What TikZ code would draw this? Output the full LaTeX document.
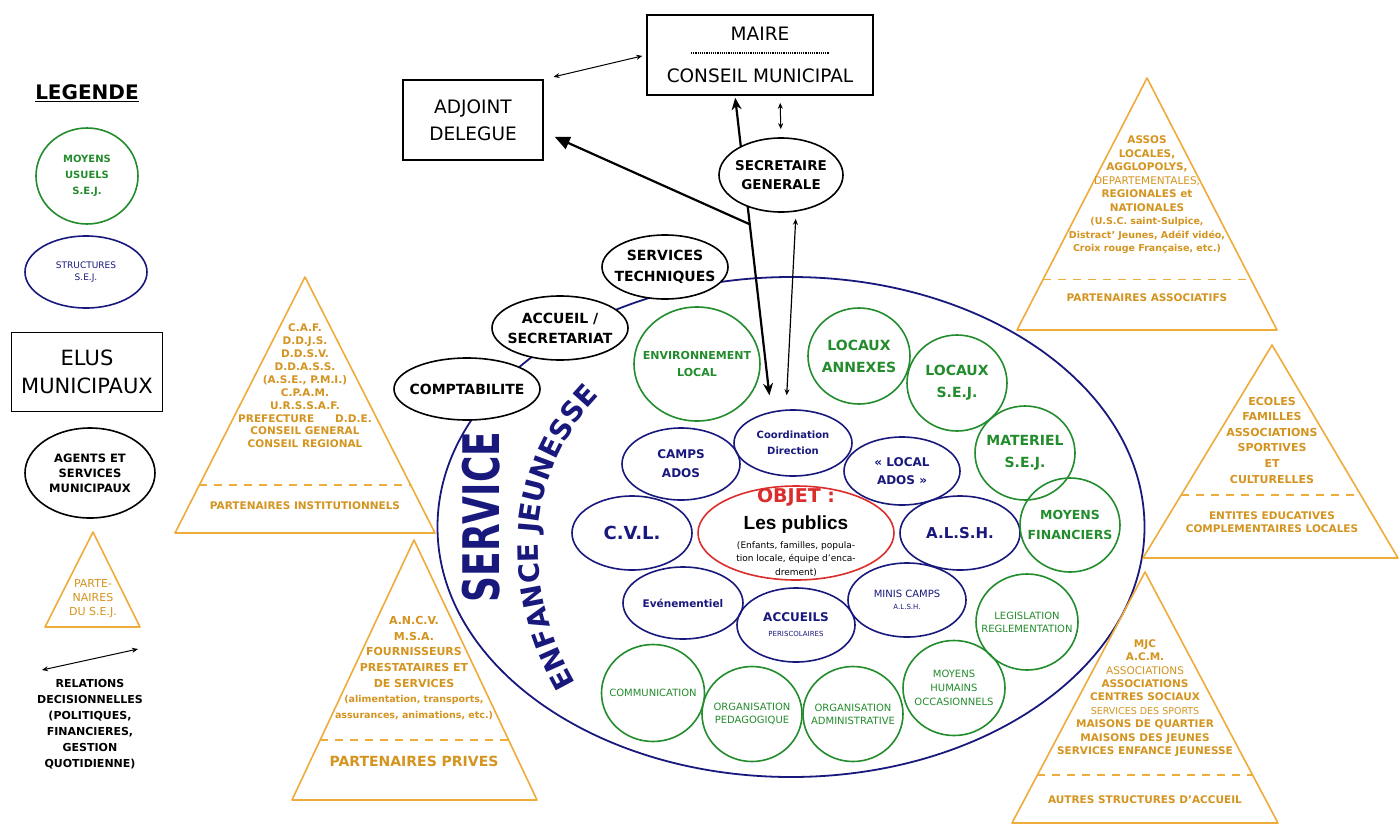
\documentclass[tikz,border=0pt]{standalone}
\usepackage{fontspec}
\setmainfont{DejaVu Sans}
\newfontfamily\publicfont{Liberation Sans}
\usetikzlibrary{shapes.geometric,arrows.meta,decorations.text,calc}

\definecolor{sejblue}{RGB}{25,25,125}
\definecolor{sejgreen}{RGB}{35,140,45}
\definecolor{sejred}{RGB}{220,45,45}
\definecolor{partline}{RGB}{238,172,58}
\definecolor{parttext}{RGB}{212,148,32}

\newcommand{\txtsize}[2]{\fontsize{#1}{#2}\selectfont}

\tikzset{
  box/.style={draw, line width=1.6pt, inner sep=0pt, align=center},
  agent/.style n args={4}{draw, ellipse, line width=1.6pt, fill=white, inner sep=0pt,
    minimum width=#1, minimum height=#2, label={[align=center, font=#3]center:#4}},
  moyen/.style n args={4}{draw=sejgreen, ellipse, line width=1.6pt, inner sep=0pt,
    minimum width=#1, minimum height=#2, label={[align=center, text=sejgreen, font=#3]center:#4}},
  struct/.style n args={4}{draw=sejblue, ellipse, line width=1.6pt, inner sep=0pt,
    minimum width=#1, minimum height=#2, label={[align=center, text=sejblue, font=#3]center:#4}},
  tri/.style={draw=partline, line width=1.6pt, line join=round},
  sepline/.style={draw=partline, line width=1.6pt, dash pattern=on 8pt off 7pt},
  parttxt/.style={text=parttext, align=center, font=\bfseries\txtsize{10.5}{12.9}},
  rel/.style={{Stealth[length=6pt,width=5pt]}-{Stealth[length=6pt,width=5pt]}, line width=1pt},
  bigline/.style={{Stealth[length=12pt,width=10pt]}-{Stealth[length=12pt,width=10pt]}, line width=2.2pt},
  bigarrow/.style={-{Triangle[length=15pt,width=13pt]}, line width=2.2pt},
}

\begin{document}
\begin{tikzpicture}[x=1pt,y=-1pt]
\useasboundingbox (0,0) rectangle (1400,825);
\fill[white] (0,0) rectangle (1400,825);

% draw legend
\node[font=\bfseries\txtsize{20}{24}] (leg) at (87,93) {\underline{LEGENDE}};
\node[moyen={102pt}{96pt}{\bfseries\txtsize{10}{16}}{MOYENS\\USUELS\\S.E.J.}] (lmoy) at (87,176) {};
\node[struct={122pt}{72pt}{\txtsize{9}{12}}{STRUCTURES\\S.E.J.}] (lstr) at (86,272) {};
\node[box, minimum width=151pt, minimum height=79pt, font=\txtsize{21}{28}] (lelu) at (87,372) {ELUS\\MUNICIPAUX};
\node[agent={130pt}{90pt}{\bfseries\txtsize{11.5}{15}}{AGENTS ET\\SERVICES\\MUNICIPAUX}] (lagt) at (90,473) {};
\draw[tri] (93,532) -- (45,627) -- (140,627) -- cycle;
\node[parttxt, font=\txtsize{11}{14}] (lpart) at (93,599) {PARTE-\\NAIRES\\DU S.E.J.};
\coordinate (rela) at (42,670);
\coordinate (relb) at (138,649);
\draw[rel] (rela) -- (relb);
\node[align=center, font=\bfseries\txtsize{11}{16}] (reltxt) at (90,724) {RELATIONS\\DECISIONNELLES\\(POLITIQUES,\\FINANCIERES,\\GESTION\\QUOTIDIENNE)};

% draw elus
\node[box, minimum width=226pt, minimum height=80pt, font=\txtsize{18.5}{42}] (maire) at (760,55) {MAIRE\\CONSEIL MUNICIPAL};
\draw[densely dotted, line width=1.2pt] ([xshift=-69pt,yshift=2pt]maire.center) -- ([xshift=69pt,yshift=2pt]maire.center);
\node[box, minimum width=140pt, minimum height=80pt, font=\txtsize{18.5}{27}] (adj) at (473,120) {ADJOINT\\DELEGUE};

% draw service
\node[draw=sejblue, ellipse, line width=1.8pt, inner sep=0pt, minimum width=707pt, minimum height=500pt] (sej) at (791,527) {};
\node[rotate=90, yscale=1.4, text=sejblue, font=\bfseries\txtsize{36}{36}] (service) at (481,517) {SERVICE};
\path[decorate, decoration={text along path, text align=center, text color=sejblue,
  text={|\bfseries\txtsize{28}{28}|ENFANCE JEUNESSE}}]
  (586,700) .. controls (520,602) and (515,468) .. (614,382);

% structures
\node[struct={118pt}{66pt}{\bfseries\txtsize{10}{16}}{Coordination\\Direction}] (coord) at (793,443) {};
\node[struct={118pt}{72pt}{\bfseries\txtsize{12}{19}}{CAMPS\\ADOS}] (camps) at (681,464) {};
\node[struct={116pt}{68pt}{\bfseries\txtsize{12}{18}}{« LOCAL\\ADOS »}] (localados) at (902,471) {};
\node[struct={120pt}{74pt}{\bfseries\txtsize{18}{18}}{C.V.L.}] (cvl) at (632,533) {};
\node[struct={120pt}{74pt}{\bfseries\txtsize{15}{15}}{A.L.S.H.}] (alsh) at (960,533) {};
\node[struct={120pt}{72pt}{\bfseries\txtsize{10.5}{12}}{Evénementiel}] (event) at (683,603) {};
\node[struct={118pt}{74pt}{\bfseries\txtsize{12}{15}}{ACCUEILS\\{\mdseries\txtsize{7}{9}PERISCOLAIRES}}] (accueils) at (796,625) {};
\node[struct={118pt}{74pt}{\txtsize{10}{12}}{MINIS CAMPS\\{\txtsize{7}{9}A.L.S.H.}}] (minis) at (907,600) {};

% objet
\node[draw=sejred, ellipse, line width=1.6pt, inner sep=0pt, minimum width=196pt, minimum height=94pt] (obj) at (796,533) {};
\node[text=sejred, font=\bfseries\txtsize{19}{19}] (objet) at ([yshift=36pt]obj.center) {OBJET :};
\node[font=\publicfont\bfseries\txtsize{19}{19}] (publics) at ([yshift=8pt]obj.center) {Les publics};
\node[align=center, font=\txtsize{9}{13.5}] (publicsdet) at ([yshift=-26pt]obj.center) {(Enfants, familles, popula-\\tion locale, équipe d'enca-\\drement)};

% moyens
\node[moyen={126pt}{114pt}{\bfseries\txtsize{11}{17}}{ENVIRONNEMENT\\LOCAL}] (env) at (697,364) {};
\node[moyen={102pt}{96pt}{\bfseries\txtsize{14}{22}}{LOCAUX\\ANNEXES}] (annexes) at (859,356) {};
\node[moyen={100pt}{96pt}{\bfseries\txtsize{14}{22}}{LOCAUX\\S.E.J.}] (locsej) at (957,383) {};
\node[moyen={100pt}{94pt}{\bfseries\txtsize{14}{22}}{MATERIEL\\S.E.J.}] (mat) at (1025,453) {};
\node[moyen={100pt}{94pt}{\bfseries\txtsize{12.5}{20}}{MOYENS\\FINANCIERS}] (fin) at (1070,525) {};
\node[moyen={102pt}{96pt}{\txtsize{10}{13}}{LEGISLATION\\REGLEMENTATION}] (legis) at (1027,622) {};
\node[moyen={102pt}{95pt}{\txtsize{10}{14}}{MOYENS\\HUMAINS\\OCCASIONNELS}] (humains) at (954,688) {};
\node[moyen={100pt}{95pt}{\txtsize{10}{13}}{ORGANISATION\\ADMINISTRATIVE}] (admin) at (853,714) {};
\node[moyen={100pt}{95pt}{\txtsize{10}{13}}{ORGANISATION\\PEDAGOGIQUE}] (peda) at (752,714) {};
\node[moyen={103pt}{97pt}{\txtsize{10}{13}}{COMMUNICATION}] (comm) at (653,693) {};

% relations
\draw[bigline, shorten <=2pt, shorten >=14pt] ([xshift=-25pt]maire.south) -- ([xshift=-22pt]coord.north) coordinate[pos=0.41] (branch);
\draw[bigarrow, shorten >=12pt] (branch) -- ([yshift=-12pt]adj.east);
\draw[rel, shorten <=10pt, shorten >=4pt] (adj.north east) -- (maire.west);

% agents
\node[agent={124pt}{74pt}{\bfseries\txtsize{13.5}{19}}{SECRETAIRE\\GENERALE}] (sg) at (781,175) {};
\node[agent={126pt}{64pt}{\bfseries\txtsize{14}{21}}{SERVICES\\TECHNIQUES}] (st) at (665,267) {};
\node[agent={136pt}{64pt}{\bfseries\txtsize{14}{20}}{ACCUEIL /\\SECRETARIAT}] (acc) at (560,328) {};
\node[agent={146pt}{62pt}{\bfseries\txtsize{14}{20}}{COMPTABILITE}] (compta) at (467,389) {};
\draw[rel, shorten <=7pt, shorten >=8pt] ([xshift=20pt]maire.south) -- (sg.north);
\draw[rel, line width=1.2pt, shorten <=6pt, shorten >=14pt] ([xshift=15pt]sg.south) -- ([xshift=-7pt]coord.north);

% partenaires institutionnels
\draw[tri] (305,277) coordinate (ia) -- (175,533) coordinate (ib) -- (435,533) coordinate (ic) -- cycle;
\draw[sepline] ($(ia)!.813!(ib)$) -- ($(ia)!.813!(ic)$);
\node[parttxt] (inst) at (305,386) {C.A.F.\\D.D.J.S.\\D.D.S.V.\\D.D.A.S.S.\\(A.S.E., P.M.I.)\\C.P.A.M.\\U.R.S.S.A.F.\\PREFECTURE\hspace{2em}D.D.E.\\CONSEIL GENERAL\\CONSEIL REGIONAL};
\node[parttxt] (insttitle) at (305,506) {PARTENAIRES INSTITUTIONNELS};

% partenaires prives
\draw[tri] (414,540) coordinate (pa) -- (292,800) coordinate (pb) -- (537,800) coordinate (pc) -- cycle;
\draw[sepline] ($(pa)!.769!(pb)$) -- ($(pa)!.769!(pc)$);
\node[parttxt, font=\bfseries\txtsize{11}{15.6}] (priv) at (414,668) {A.N.C.V.\\M.S.A.\\FOURNISSEURS\\PRESTATAIRES ET\\DE SERVICES\\{\txtsize{9.5}{15.6}(alimentation, transports,}\\{\txtsize{9.5}{15.6}assurances, animations, etc.)}};
\node[parttxt, font=\bfseries\txtsize{14}{16}] (privtitle) at (414,761) {PARTENAIRES PRIVES};

% partenaires associatifs
\draw[tri] (1147,78) coordinate (aa) -- (1017,330) coordinate (ab) -- (1277,330) coordinate (ac) -- cycle;
\draw[sepline] ($(aa)!.80!(ab)$) -- ($(aa)!.80!(ac)$);
\node[parttxt, font=\bfseries\txtsize{10.5}{13.5}] (assoc) at (1147,195) {ASSOS\\LOCALES,\\AGGLOPOLYS,\\{\mdseries DEPARTEMENTALES,}\\REGIONALES et\\NATIONALES\\{\txtsize{9.5}{13.5}(U.S.C. saint-Sulpice,}\\{\txtsize{9.5}{13.5}Distract' Jeunes, Adéif vidéo,}\\{\txtsize{9.5}{13.5}Croix rouge Française, etc.)}};
\node[parttxt] (assoctitle) at (1147,298) {PARTENAIRES ASSOCIATIFS};

% entites educatives
\draw[tri] (1272,345) coordinate (ea) -- (1143,558) coordinate (eb) -- (1398,558) coordinate (ec) -- cycle;
\draw[sepline] ($(ea)!.704!(eb)$) -- ($(ea)!.704!(ec)$);
\node[parttxt, font=\bfseries\txtsize{11}{15.6}] (ent) at (1272,440) {ECOLES\\FAMILLES\\ASSOCIATIONS\\SPORTIVES\\ET\\CULTURELLES};
\node[parttxt, font=\bfseries\txtsize{10.5}{13}] (enttitle) at (1272,522) {ENTITES EDUCATIVES\\COMPLEMENTAIRES LOCALES};

% autres structures
\draw[tri] (1145,572) coordinate (sa) -- (1012,823) coordinate (sb) -- (1278,823) coordinate (sc) -- cycle;
\draw[sepline] ($(sa)!.809!(sb)$) -- ($(sa)!.809!(sc)$);
\node[parttxt, font=\bfseries\txtsize{10.5}{13.4}] (autres) at (1145,698) {MJC\\A.C.M.\\{\mdseries ASSOCIATIONS}\\ASSOCIATIONS\\CENTRES SOCIAUX\\{\mdseries\txtsize{9.5}{13.4}SERVICES DES SPORTS}\\MAISONS DE QUARTIER\\MAISONS DES JEUNES\\SERVICES ENFANCE JEUNESSE};
\node[parttxt] (autrestitle) at (1145,800) {AUTRES STRUCTURES D'ACCUEIL};
\end{tikzpicture}
\end{document}
